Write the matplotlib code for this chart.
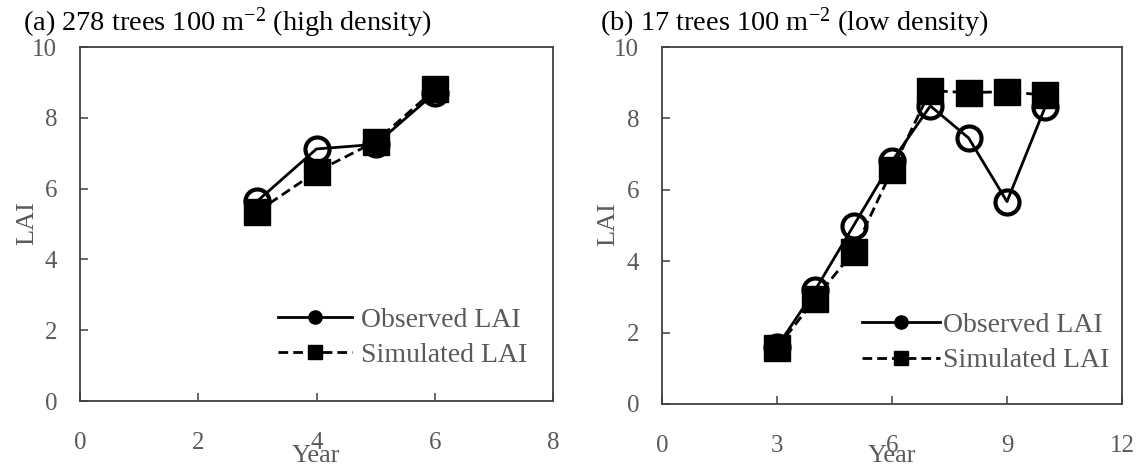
import matplotlib
matplotlib.use("Agg")
import matplotlib.pyplot as plt
from matplotlib.lines import Line2D

plt.rcParams['font.family'] = ['Liberation Serif', 'DejaVu Serif']
plt.rcParams['mathtext.fontset'] = 'custom'
plt.rcParams['mathtext.rm'] = 'Liberation Serif'
plt.rcParams['mathtext.it'] = 'Liberation Serif:italic'

# Panel (a) data
years_a = [3, 4, 5, 6]
obs_a = [5.65, 7.12, 7.25, 8.7]
sim_a = [5.35, 6.48, 7.33, 8.8]

# Panel (b) data
years_b = [3, 4, 5, 6, 7, 8, 9, 10]
obs_b = [1.6, 3.2, 5.0, 6.8, 8.35, 7.45, 5.67, 8.33]
sim_b = [1.57, 2.95, 4.27, 6.55, 8.78, 8.72, 8.75, 8.65]

titles = ["(a) 278 trees 100 m$^{-2}$ (high density)",
          "(b) 17 trees 100 m$^{-2}$ (low density)"]
legend_labels = ['Observed LAI', 'Simulated LAI']
xticks_a = [0, 2, 4, 6, 8]
xticks_b = [0, 3, 6, 9, 12]
yticks = [0, 2, 4, 6, 8, 10]

gray = '#5a5a5a'
spine = '#404040'

fig = plt.figure(figsize=(11.44, 4.67), dpi=100)
W, H = 1144, 467


def axes_px(l, t, r, b):
    return fig.add_axes([l / W, 1 - b / H, (r - l) / W, (b - t) / H])


ax_a = axes_px(80, 47, 553, 401)
ax_b = axes_px(662, 47, 1122, 404)

panels = [
    dict(ax=ax_a, yrs=years_a, obs=obs_a, sim=sim_a, xt=xticks_a, title=titles[0],
         tx=23, ylab_x=-0.0873, xlab_y=-0.124, leg=(0.4186, 0.179), hl=2.66, htp=0.33),
    dict(ax=ax_b, yrs=years_b, obs=obs_b, sim=sim_b, xt=xticks_b, title=titles[1],
         tx=600, ylab_x=-0.094, xlab_y=-0.115, leg=(0.4348, 0.171), hl=2.8, htp=0.12),
]

for p in panels:
    ax = p['ax']
    ax.plot(p['yrs'], p['obs'], '-', color='black', lw=2, marker='o', ms=17.3,
            mfc='none', mec='black', mew=3, zorder=3)
    ax.plot(p['yrs'], p['sim'], '--', color='black', lw=2, dashes=(3.5, 1.8),
            marker='s', ms=19, mfc='black', mec='black', mew=1, zorder=4)
    xt = p['xt']
    ax.set_xlim(xt[0], xt[-1])
    ax.set_ylim(0, 10)
    ax.set_xticks(xt)
    ax.set_yticks(yticks)
    ax.tick_params(direction='in', length=6, width=1.1, colors=spine,
                   labelcolor=gray, labelsize=18)
    ax.tick_params(axis='x', pad=22.3)
    ax.tick_params(axis='y', pad=16.5)
    for s in ax.spines.values():
        s.set_color(spine)
        s.set_linewidth(1.3)
    ax.set_xlabel('Year', color=gray, fontsize=19)
    ax.xaxis.set_label_coords(0.5, p['xlab_y'])
    ax.set_ylabel('LAI', color=gray, fontsize=19)
    ax.yaxis.set_label_coords(p['ylab_x'], 0.503)
    fig.text(p['tx'] / W, 1 - 31 / H, p['title'], fontsize=20.4, color='black',
             ha='left', va='baseline')
    handles = [Line2D([0], [0], color='black', lw=2, marker='o', ms=9.5,
                      mfc='black', mec='black'),
               Line2D([0], [0], color='black', lw=2, ls='--', dashes=(3.5, 1.8),
                      marker='s', ms=9.5, mfc='black', mec='black')]
    leg = ax.legend(handles, legend_labels, loc='center left',
                    bbox_to_anchor=p['leg'], frameon=False, fontsize=20,
                    handlelength=p['hl'], handletextpad=p['htp'], labelspacing=0.35,
                    borderaxespad=0, borderpad=0)
    for t in leg.get_texts():
        t.set_color(gray)

fig.savefig('out.png', dpi=100)
